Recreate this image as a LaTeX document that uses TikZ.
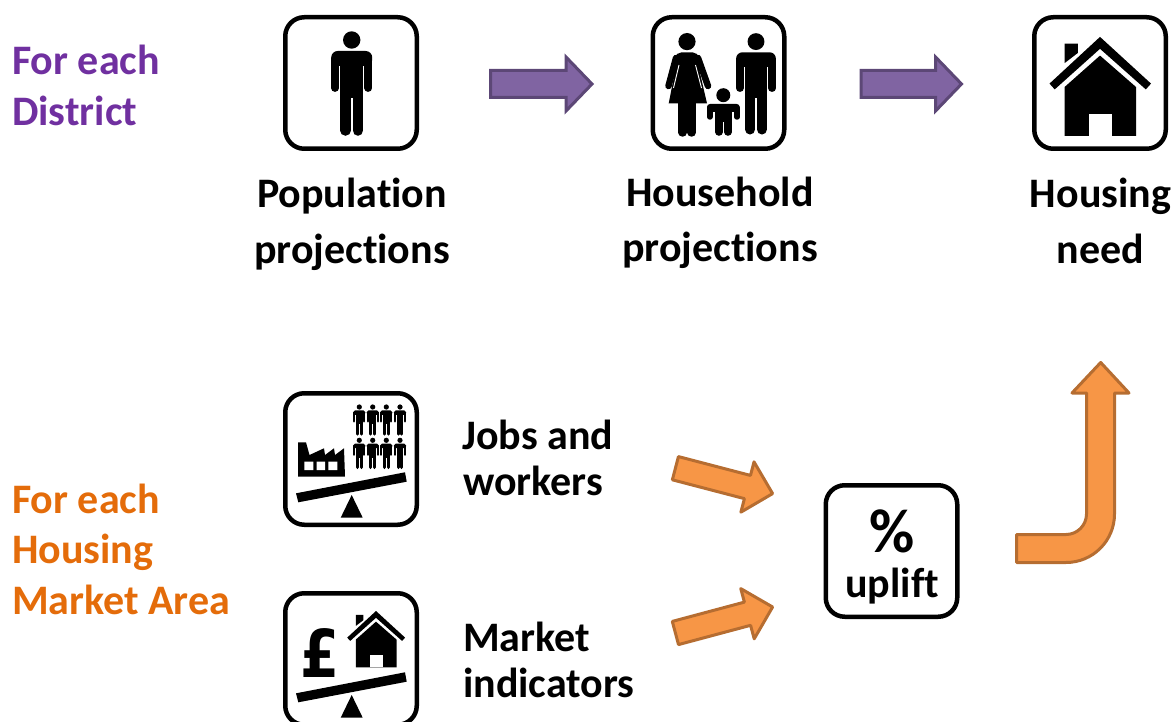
\documentclass[tikz,border=0pt]{standalone}
\usepackage{fontspec}
\setmainfont[RawFeature=-liga]{Carlito}
\newfontfamily\poundfont{DejaVu Sans}
\usetikzlibrary{calc}
\definecolor{districtpurple}{HTML}{7030A0}
\definecolor{hmaorange}{HTML}{E46C0A}
\definecolor{purplefill}{HTML}{8064A2}
\definecolor{purpleedge}{HTML}{5C4776}
\definecolor{orangefill}{HTML}{F79646}
\definecolor{orangeedge}{HTML}{B66D31}
\tikzset{
  iconbox/.style={draw=black,fill=white,line width=4.5pt,rounded corners=19pt,minimum width=131.5pt,minimum height=131.5pt,inner sep=0pt},
  bigtext/.style={font=\bfseries\fontsize{42}{42}\selectfont,anchor=base,inner sep=0pt},
  sidetext/.style={bigtext,anchor=base west},
  purplearrow/.style={draw=purpleedge,fill=purplefill,line width=3pt,miter limit=10},
  orangearrow/.style={draw=orangeedge,fill=orangefill,line width=3pt,line join=round},
}
% person: head centre at (#1,#2), scale #3
\newcommand{\personicon}[3]{%
  \begin{scope}[shift={(#1,#2)},scale=#3]
    \fill[black] (0,0) circle (8.7);
    \fill[black,rounded corners={6.5*#3 pt}] (-20.5,26) -- (-20.5,11) -- (20.5,11) -- (20.5,26) -- cycle;
    \draw[black,line width={7.8*#3 pt},line cap=round] (-16.6,20) -- (-16.6,48) (16.6,20) -- (16.6,48);
    \fill[black] (-11.3,15) rectangle (11.3,58);
    \draw[black,line width={10.6*#3 pt},line cap=round] (-6.1,50) -- (-6.1,90.5) (6.1,50) -- (6.1,90.5);
  \end{scope}}
% house: apex at (#1,#2), scale #3
\newcommand{\houseicon}[3]{%
  \begin{scope}[shift={(#1,#2)},scale=#3]
    \fill[black] (0,0) -- (51,46.7) -- (45.8,52.5) -- (0,11.9) -- (-45.3,52.5) -- (-50.5,46.7) -- cycle;
    \fill[black] (-35.4,6.8) -- (-22.1,6.8) -- (-22.1,16) -- (-35.4,26.2) -- cycle;
    \fill[black] (0,18.7) -- (36,50.1) -- (36,98.9) -- (-35.4,98.9) -- (-35.4,50.1) -- cycle;
    \fill[white] (-10.9,77.4) rectangle (11.7,98.9);
  \end{scope}}
% seesaw, shifted down by #1
\newcommand{\seesawicon}[1]{%
  \begin{scope}[yshift={-#1pt}]
    \fill[black] (296,493.3) -- (405,472.3) -- (406.7,481.7) -- (298.3,502.3) -- cycle;
    \fill[black] (351.7,495) -- (362.7,517.7) -- (340.7,517.7) -- cycle;
  \end{scope}}
% block arrow between named coordinates #2 -> #3
\newcommand{\blockarrow}[6]{%
  \coordinate (neck) at ($(#3)!#6pt!(#2)$);
  \draw[#1] ($(#2)!#4pt!90:(#3)$) -- ($(neck)!#4pt!90:(#3)$) -- ($(neck)!#5pt!90:(#3)$) -- (#3)
    -- ($(neck)!#5pt!-90:(#3)$) -- ($(neck)!#4pt!-90:(#3)$) -- ($(#2)!#4pt!-90:(#3)$) -- cycle;}
\begin{document}
\begin{tikzpicture}[x=1pt,y=-1pt]
\useasboundingbox (0,0) rectangle (1175,722);
\clip (0,0) rectangle (1175,722);
% side labels
\node[sidetext,text=districtpurple] (district1) at (12,74.5) {For each};
\node[sidetext,text=districtpurple] (district2) at (12,125.5) {District};
\node[sidetext,text=hmaorange] (hma1) at (12,513) {For each};
\node[sidetext,text=hmaorange] (hma2) at (12,563.5) {Housing};
\node[sidetext,text=hmaorange] (hma3) at (12,614.5) {Market Area};
% icon boxes
\node[iconbox] (popbox) at (351,83) {};
\node[iconbox] (hhbox) at (718.5,83) {};
\node[iconbox] (housebox) at (1100,83) {};
\node[iconbox] (jobsbox) at (351,459) {};
\node[iconbox] (marketbox) at (351,659) {};
\node[iconbox] (upliftbox) at (891.5,551) {};
% captions
\node[bigtext] (poplabel1) at (352,207.5) {Population};
\node[bigtext] (poplabel2) at (352,263) {projections};
\node[bigtext] (hhlabel1) at (720,206.5) {Household};
\node[bigtext] (hhlabel2) at (720,261.5) {projections};
\node[bigtext] (needlabel1) at (1100.5,207.5) {Housing};
\node[bigtext] (needlabel2) at (1100.5,263) {need};
\node[sidetext] (jobslabel1) at (462,449) {Jobs and};
\node[sidetext] (jobslabel2) at (463,495) {workers};
\node[sidetext] (marketlabel1) at (463,651) {Market};
\node[sidetext] (marketlabel2) at (463,697) {indicators};
\node[font=\bfseries\fontsize{62}{62}\selectfont,anchor=base,inner sep=0pt] (percent) at (892,552) {\%};
\node[bigtext] (upliftlabel) at (892,597) {uplift};
% population icon
\personicon{351.7}{40}{1}
% household icon
\personicon{756}{41.6}{0.97}
\fill[black] (687,41.6) circle (8.6);
\draw[black,line width=6.5pt,line cap=round] (676,58) -- (668.5,86) (698,58) -- (708,86);
\fill[black,rounded corners=5pt] (674,64) -- (676,52.5) -- (698,52.5) -- (700,64) -- cycle;
\fill[black] (678,56) -- (696,56) -- (707,103.4) -- (668.7,103.4) -- cycle;
\draw[white,line width=0.9pt] (679,65) -- (673.5,88) (695.5,65) -- (701.5,88);
\draw[black,line width=8.5pt,line cap=round] (682.6,100) -- (682.6,132.5) (691.6,100) -- (691.6,132.5);
\fill[black] (723.3,95.2) circle (7);
\fill[black,rounded corners=3pt] (707,112) -- (707,104) -- (739.7,104) -- (739.7,112) -- cycle;
\draw[black,line width=5.5pt,line cap=round] (709.8,108) -- (709.8,117) (737,108) -- (737,117);
\fill[black] (714.8,104) rectangle (732,122);
\draw[black,line width=7.6pt,line cap=round] (719,118) -- (719,132) (728,118) -- (728,132);
% housing icon
\houseicon{1100}{36.9}{1}
% jobs icon
\foreach \hx in {359.3,372.7,386.3,400} {
  \personicon{\hx}{407}{0.3}
  \personicon{\hx}{440.3}{0.3}
}
\fill[black] (298,442.3) -- (306,442.3) -- (309.5,455) -- (324,448.3) -- (325,455) -- (334,448.3) -- (335,455) -- (344,448.3) -- (345,476.7) -- (298,476.7) -- cycle;
\fill[white] (304.3,461.7) rectangle (313.3,470) (316.7,461.7) rectangle (325,470) (328.3,461.7) rectangle (337.3,470);
\seesawicon{0}
% market icon
\node[font=\bfseries\fontsize{66}{66}\selectfont\poundfont,anchor=base,inner sep=0pt,xscale=0.85,transform shape] (pound) at (320,677) {£};
\houseicon{376}{611}{0.57}
\seesawicon{200}
% block arrows
\coordinate (p1a) at (490.5,84);
\coordinate (p1b) at (592,84);
\coordinate (p2a) at (861,84);
\coordinate (p2b) at (961.5,84);
\blockarrow{purplearrow}{p1a}{p1b}{13.5}{27}{26}
\blockarrow{purplearrow}{p2a}{p2b}{13.5}{27}{26}
\coordinate (o1a) at (675.4,468.2);
\coordinate (o1b) at (772.6,493.6);
\coordinate (o2a) at (675.4,633);
\coordinate (o2b) at (772.6,607);
\blockarrow{orangearrow}{o1a}{o1b}{12}{26}{26}
\blockarrow{orangearrow}{o2a}{o2b}{12}{26}{26}
\draw[orangearrow] (1016.5,534.5) -- (1066,534.5) arc[start angle=90,end angle=0,radius=20.5]
  -- (1086.5,393) -- (1072,393) -- (1100.7,362.5) -- (1129,393) -- (1114.5,393) -- (1114.5,514)
  arc[start angle=0,end angle=90,radius=48.5] -- (1016.5,562.5) -- cycle;
\end{tikzpicture}
\end{document}
